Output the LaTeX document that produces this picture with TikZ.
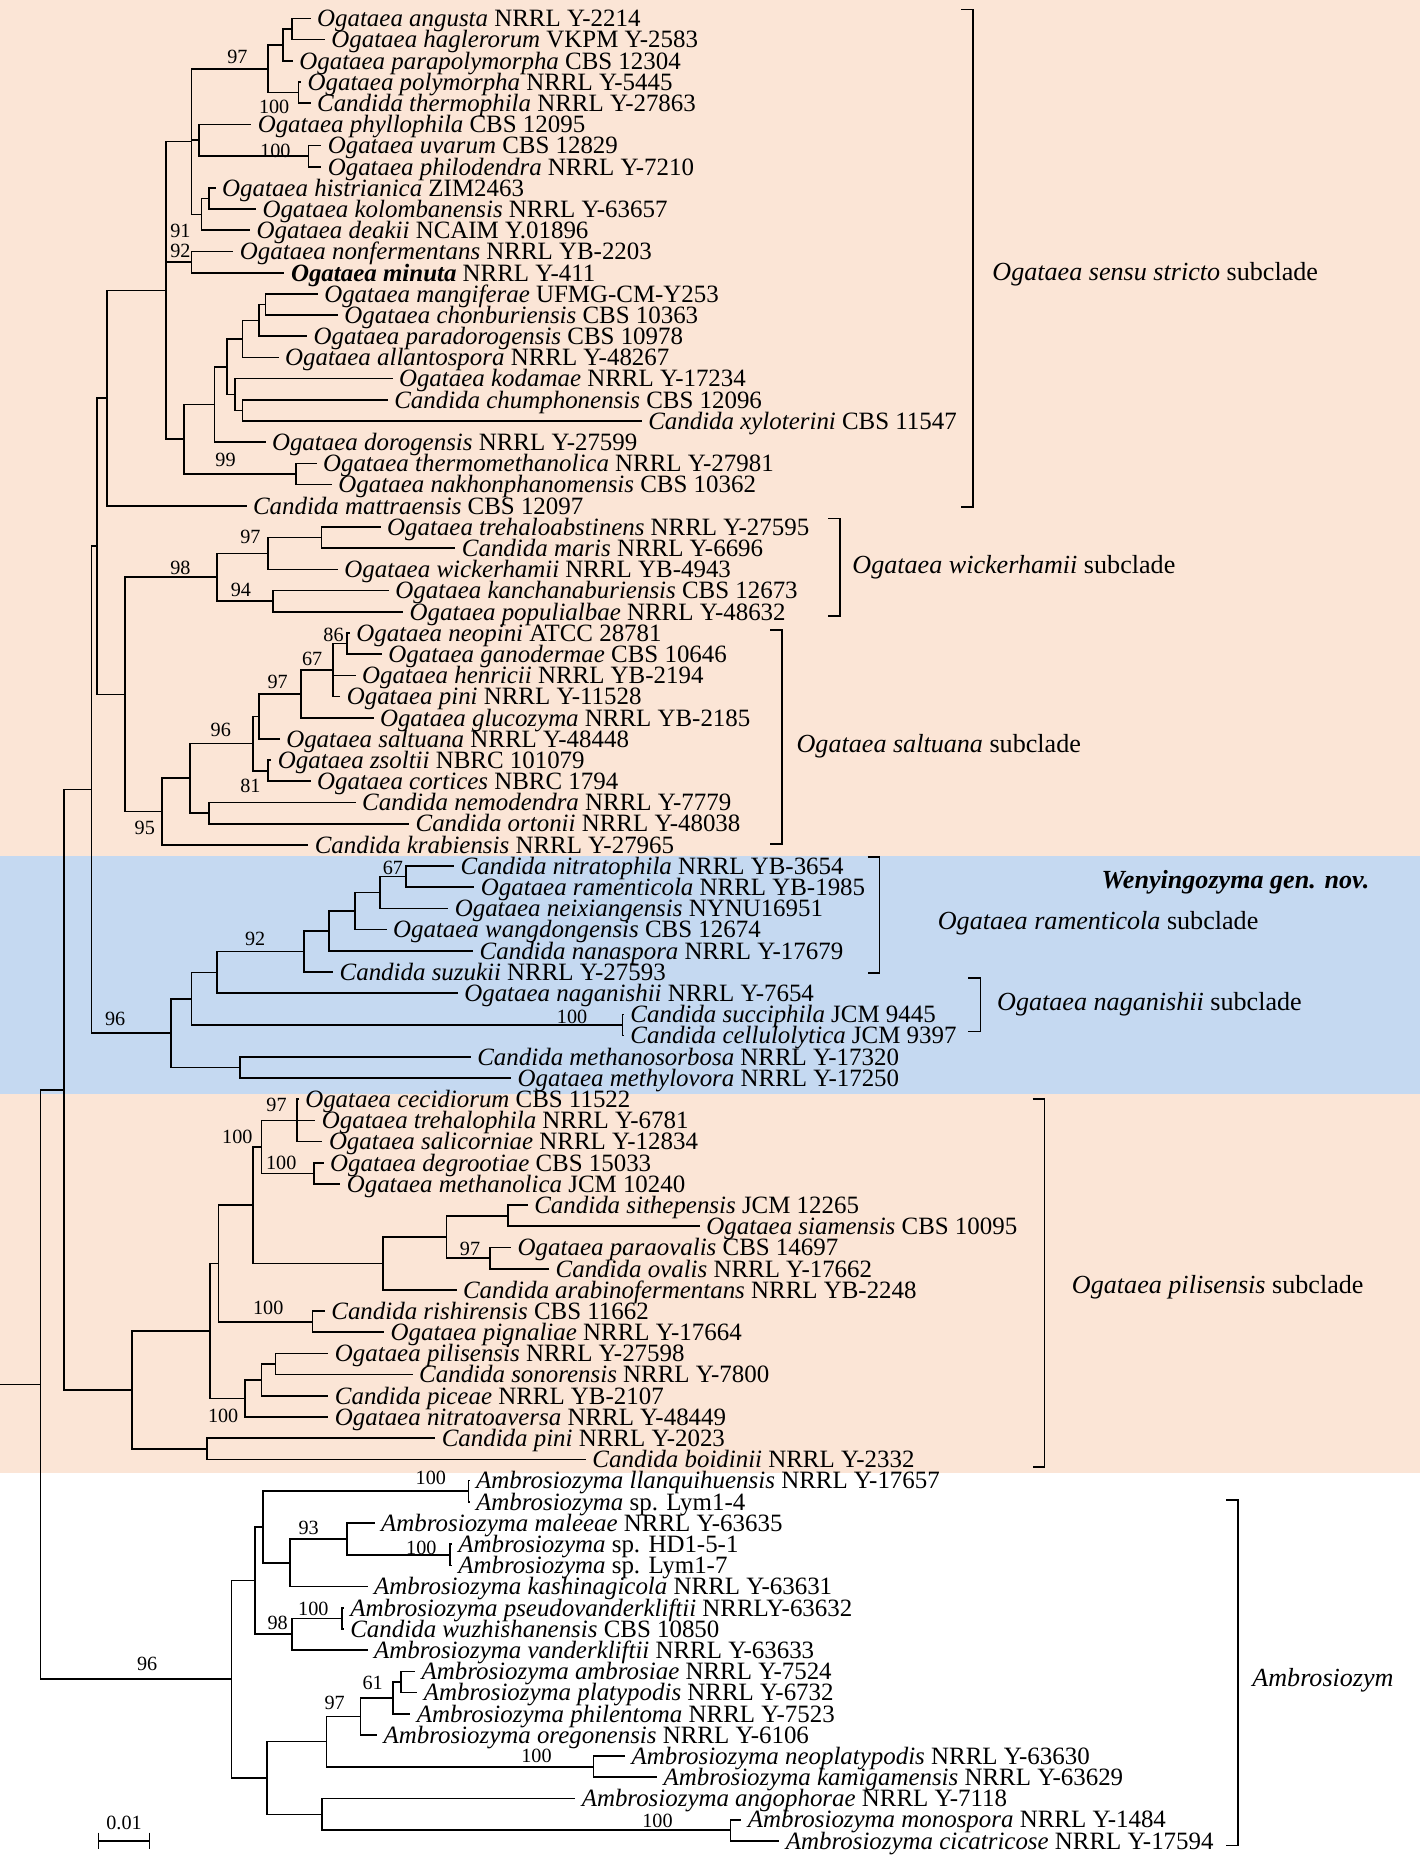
\documentclass[tikz,border=0pt]{standalone}
\usepackage{fontspec}
\setmainfont{Liberation Serif}
\usetikzlibrary{calc}
\definecolor{peach}{RGB}{251,229,214}
\definecolor{bluebg}{RGB}{197,217,241}
\tikzset{
  br/.style={line width=1.4pt, line cap=rect},
  brk/.style={line width=1.4pt},
  leaf/.style={anchor=west, inner sep=0pt, xshift=6pt, font=\fontsize{21}{21}\selectfont, text height=14pt, text depth=0pt},
  bs/.style={inner sep=0pt, font=\fontsize{17}{17}\selectfont, text height=11.5pt, text depth=0pt},
  lab/.style={anchor=west, inner sep=0pt, font=\fontsize{22}{22}\selectfont, text height=14.5pt, text depth=0pt},
}
% leaf: name, index, tip x, text
\newcommand\lf[4]{%
  \coordinate (#1) at (#3,{15.5+(#2-1)*17.855});
  \node[leaf] (#1t) at (#1) {#4};}
% clade: name, x, child1, child2
\newcommand\cl[4]{%
  \coordinate (#1-m) at ($(#3)!.5!(#4)$);
  \coordinate (#1) at (#2,0 |- #1-m);
  \draw[br] (#3) -| (#1) |- (#4);}
% polytomy: name, x, child1, child2, child3
\newcommand\clt[5]{%
  \coordinate (#1-m) at ($(#3)!.5!(#5)$);
  \coordinate (#1) at (#2,0 |- #1-m);
  \draw[br] (#3) -| (#1) |- (#5);
  \draw[br] (#1 |- #4) -- (#4);}
\begin{document}
\begin{tikzpicture}[x=1pt,y=-1pt]
\useasboundingbox (0,0) rectangle (1196,1568);
\fill[white] (0,0) rectangle (1196,1568);
\fill[peach] (0,0) rectangle (1196,721);
\fill[bluebg] (0,721) rectangle (1196,922);
\fill[peach] (0,922) rectangle (1196,1241);

% ---------- leaves ----------
\lf{L1}{1}{261}{\textit{Ogataea angusta} NRRL Y-2214}
\lf{L2}{2}{273}{\textit{Ogataea haglerorum} VKPM Y-2583}
\lf{L3}{3}{246}{\textit{Ogataea parapolymorpha} CBS 12304}
\lf{L4}{4}{253}{\textit{Ogataea polymorpha} NRRL Y-5445}
\lf{L5}{5}{261}{\textit{Candida thermophila} NRRL Y-27863}
\lf{L6}{6}{211}{\textit{Ogataea phyllophila} CBS 12095}
\lf{L7}{7}{270}{\textit{Ogataea uvarum} CBS 12829}
\lf{L8}{8}{270}{\textit{Ogataea philodendra} NRRL Y-7210}
\lf{L9}{9}{181}{\textit{Ogataea histrianica} ZIM2463}
\lf{L10}{10}{215}{\textit{Ogataea kolombanensis} NRRL Y-63657}
\lf{L11}{11}{210}{\textit{Ogataea deakii} NCAIM Y.01896}
\lf{L12}{12}{196}{\textit{Ogataea nonfermentans} NRRL YB-2203}
\lf{L13}{13}{239}{\textbf{\textit{Ogataea minuta}} NRRL Y-411}
\lf{L14}{14}{267}{\textit{Ogataea mangiferae} UFMG-CM-Y253}
\lf{L15}{15}{284}{\textit{Ogataea chonburiensis} CBS 10363}
\lf{L16}{16}{258}{\textit{Ogataea paradorogensis} CBS 10978}
\lf{L17}{17}{234}{\textit{Ogataea allantospora} NRRL Y-48267}
\lf{L18}{18}{330}{\textit{Ogataea kodamae} NRRL Y-17234}
\lf{L19}{19}{326}{\textit{Candida chumphonensis} CBS 12096}
\lf{L20}{20}{540}{\textit{Candida xyloterini} CBS 11547}
\lf{L21}{21}{223}{\textit{Ogataea dorogensis} NRRL Y-27599}
\lf{L22}{22}{266}{\textit{Ogataea thermomethanolica} NRRL Y-27981}
\lf{L23}{23}{279}{\textit{Ogataea nakhonphanomensis} CBS 10362}
\lf{L24}{24}{207}{\textit{Candida mattraensis} CBS 12097}
\lf{L25}{25}{320}{\textit{Ogataea trehaloabstinens} NRRL Y-27595}
\lf{L26}{26}{383}{\textit{Candida maris} NRRL Y-6696}
\lf{L27}{27}{284}{\textit{Ogataea wickerhamii} NRRL YB-4943}
\lf{L28}{28}{327}{\textit{Ogataea kanchanaburiensis} CBS 12673}
\lf{L29}{29}{339}{\textit{Ogataea populialbae} NRRL Y-48632}
\lf{L30}{30}{294}{\textit{Ogataea neopini} ATCC 28781}
\lf{L31}{31}{321}{\textit{Ogataea ganodermae} CBS 10646}
\lf{L32}{32}{299}{\textit{Ogataea henricii} NRRL YB-2194}
\lf{L33}{33}{286}{\textit{Ogataea pini} NRRL Y-11528}
\lf{L34}{34}{314}{\textit{Ogataea glucozyma} NRRL YB-2185}
\lf{L35}{35}{235}{\textit{Ogataea saltuana} NRRL Y-48448}
\lf{L36}{36}{228}{\textit{Ogataea zsoltii} NBRC 101079}
\lf{L37}{37}{261}{\textit{Ogataea cortices} NBRC 1794}
\lf{L38}{38}{299}{\textit{Candida nemodendra} NRRL Y-7779}
\lf{L39}{39}{344}{\textit{Candida ortonii} NRRL Y-48038}
\lf{L40}{40}{259}{\textit{Candida krabiensis} NRRL Y-27965}
\lf{L41}{41}{382}{\textit{Candida nitratophila} NRRL YB-3654}
\lf{L42}{42}{399}{\textit{Ogataea ramenticola} NRRL YB-1985}
\lf{L43}{43}{377}{\textit{Ogataea neixiangensis} NYNU16951}
\lf{L44}{44}{325}{\textit{Ogataea wangdongensis} CBS 12674}
\lf{L45}{45}{398}{\textit{Candida nanaspora} NRRL Y-17679}
\lf{L46}{46}{280}{\textit{Candida suzukii} NRRL Y-27593}
\lf{L47}{47}{385}{\textit{Ogataea naganishii} NRRL Y-7654}
\lf{L48}{48}{525}{\textit{Candida succiphila} JCM 9445}
\lf{L49}{49}{525}{\textit{Candida cellulolytica} JCM 9397}
\lf{L50}{50}{396}{\textit{Candida methanosorbosa} NRRL Y-17320}
\lf{L51}{51}{430}{\textit{Ogataea methylovora} NRRL Y-17250}
\lf{L52}{52}{251}{\textit{Ogataea cecidiorum} CBS 11522}
\lf{L53}{53}{265}{\textit{Ogataea trehalophila} NRRL Y-6781}
\lf{L54}{54}{271}{\textit{Ogataea salicorniae} NRRL Y-12834}
\lf{L55}{55}{272}{\textit{Ogataea degrootiae} CBS 15033}
\lf{L56}{56}{286}{\textit{Ogataea methanolica} JCM 10240}
\lf{L57}{57}{444}{\textit{Candida sithepensis} JCM 12265}
\lf{L58}{58}{589}{\textit{Ogataea siamensis} CBS 10095}
\lf{L59}{59}{430}{\textit{Ogataea paraovalis} CBS 14697}
\lf{L60}{60}{462}{\textit{Candida ovalis} NRRL Y-17662}
\lf{L61}{61}{384}{\textit{Candida arabinofermentans} NRRL YB-2248}
\lf{L62}{62}{273}{\textit{Candida rishirensis} CBS 11662}
\lf{L63}{63}{323}{\textit{Ogataea pignaliae} NRRL Y-17664}
\lf{L64}{64}{276}{\textit{Ogataea pilisensis} NRRL Y-27598}
\lf{L65}{65}{347}{\textit{Candida sonorensis} NRRL Y-7800}
\lf{L66}{66}{276}{\textit{Candida piceae} NRRL YB-2107}
\lf{L67}{67}{276}{\textit{Ogataea nitratoaversa} NRRL Y-48449}
\lf{L68}{68}{366}{\textit{Candida pini} NRRL Y-2023}
\lf{L69}{69}{493}{\textit{Candida boidinii} NRRL Y-2332}
\lf{L70}{70}{395}{\textit{Ambrosiozyma llanquihuensis} NRRL Y-17657}
\lf{L71}{71}{395}{\textit{Ambrosiozyma} sp. Lym1-4}
\lf{L72}{72}{315}{\textit{Ambrosiozyma maleeae} NRRL Y-63635}
\lf{L73}{73}{380}{\textit{Ambrosiozyma} sp. HD1-5-1}
\lf{L74}{74}{380}{\textit{Ambrosiozyma} sp. Lym1-7}
\lf{L75}{75}{309}{\textit{Ambrosiozyma kashinagicola} NRRL Y-63631}
\lf{L76}{76}{289}{\textit{Ambrosiozyma pseudovanderkliftii} NRRLY-63632}
\lf{L77}{77}{289}{\textit{Candida wuzhishanensis} CBS 10850}
\lf{L78}{78}{309}{\textit{Ambrosiozyma vanderkliftii} NRRL Y-63633}
\lf{L79}{79}{349}{\textit{Ambrosiozyma ambrosiae} NRRL Y-7524}
\lf{L80}{80}{351}{\textit{Ambrosiozyma platypodis} NRRL Y-6732}
\lf{L81}{81}{345}{\textit{Ambrosiozyma philentoma} NRRL Y-7523}
\lf{L82}{82}{317}{\textit{Ambrosiozyma oregonensis} NRRL Y-6106}
\lf{L83}{83}{526}{\textit{Ambrosiozyma neoplatypodis} NRRL Y-63630}
\lf{L84}{84}{553}{\textit{Ambrosiozyma kamigamensis} NRRL Y-63629}
\lf{L85}{85}{484}{\textit{Ambrosiozyma angophorae} NRRL Y-7118}
\lf{L86}{86}{624}{\textit{Ambrosiozyma monospora} NRRL Y-1484}
\lf{L87}{87}{656}{\textit{Ambrosiozyma cicatricose} NRRL Y-17594}

% ---------- Ogataea sensu stricto ----------
\cl{nAH}{246}{L1}{L2}
\cl{nAHP}{238.7}{nAH}{L3}
\cl{nPT}{251.6}{L4}{L5}
\cl{n97}{225.8}{nAHP}{nPT}
\cl{nUP}{260}{L7}{L8}
\cl{nPhy}{167.7}{L6}{nUP}
\cl{nHK}{176.3}{L9}{L10}
\cl{nHKD}{169.9}{nHK}{L11}
\clt{nTop}{161.3}{n97}{nPhy}{nHKD}
\cl{nNM}{161.3}{L12}{L13}
\cl{nMC}{223.6}{L14}{L15}
\cl{nMCP}{218.4}{nMC}{L16}
\cl{nMCPA}{204.3}{nMCP}{L17}
\cl{nCX}{204.3}{L19}{L20}
\cl{nKCX}{197.8}{L18}{nCX}
\cl{nMK}{191.4}{nMCPA}{nKCX}
\cl{nMKD}{180.6}{nMK}{L21}
\cl{nTN}{249.4}{L22}{L23}
\cl{n99}{154.8}{nMKD}{nTN}
\clt{nCore}{139.7}{nTop}{nNM}{n99}
\cl{nSS}{90.3}{nCore}{L24}
% ---------- wickerhamii ----------
\cl{nTM}{270.9}{L25}{L26}
\cl{nTMW}{225.8}{nTM}{L27}
\cl{nKP}{230}{L28}{L29}
\cl{nWick}{182.8}{nTMW}{nKP}
% ---------- saltuana ----------
\cl{nNG}{292.4}{L30}{L31}
\clt{nNGHP}{280.4}{nNG}{L32}{L33}
\cl{nG}{253.7}{nNGHP}{L34}
\cl{nS}{218.4}{nG}{L35}
\cl{nZC}{225.8}{L36}{L37}
\cl{nSZ}{212.9}{nS}{nZC}
\cl{nNO}{176.3}{L38}{L39}
\cl{n96s}{160}{nSZ}{nNO}
\cl{nSalt}{136.7}{n96s}{L40}
\cl{nWS}{105.4}{nWick}{nSalt}
\cl{n82}{82}{nSS}{nWS}
% ---------- Wenyingozyma ----------
\cl{nNR}{341.9}{L41}{L42}
\cl{nNRN}{320.4}{nNR}{L43}
\cl{nW4}{298.9}{nNRN}{L44}
\cl{nW5}{277.4}{nW4}{L45}
\cl{nW6}{255.9}{nW5}{L46}
\cl{nW7}{182.8}{nW6}{L47}
\cl{nSC}{524.6}{L48}{L49}
\cl{nW8}{161.3}{nW7}{nSC}
\cl{nMM}{202.1}{L50}{L51}
\cl{nWen}{144}{nW8}{nMM}
\cl{nA}{77}{n82}{nWen}
% ---------- pilisensis ----------
\clt{nCTS}{250.3}{L52}{L53}{L54}
\cl{nDM}{264.5}{L55}{L56}
\cl{nCD}{220.2}{nCTS}{nDM}
\cl{nSSi}{427.9}{L57}{L58}
\cl{nPO}{412.8}{L59}{L60}
\cl{nSP}{376.3}{nSSi}{nPO}
\cl{nSPA}{322.5}{nSP}{L61}
\cl{nCDS}{212.9}{nCD}{nSPA}
\cl{nRP}{263.2}{L62}{L63}
\cl{nX}{184}{nCDS}{nRP}
\cl{nPS}{232.2}{L64}{L65}
\cl{nPSP}{220.2}{nPS}{L66}
\cl{nPSPN}{206.4}{nPSP}{L67}
\cl{nY}{177.2}{nX}{nPSPN}
\cl{nPB}{174.2}{L68}{L69}
\cl{nPil}{111}{nY}{nPB}
\cl{n54}{54}{nA}{nPil}
% ---------- Ambrosiozyma ----------
\cl{nLL}{394.7}{L70}{L71}
\cl{nHL}{379.3}{L73}{L74}
\cl{nMHL}{292.4}{L72}{nHL}
\cl{nMHLK}{244.2}{nMHL}{L75}
\cl{nAm1}{221.5}{nLL}{nMHLK}
\cl{nPW}{288.1}{L76}{L77}
\cl{nPWV}{246}{nPW}{L78}
\cl{nAm2}{215}{nAm1}{nPWV}
\cl{nAP}{338}{L79}{L80}
\cl{nAPP}{331}{nAP}{L81}
\cl{nAPPO}{303.7}{nAPP}{L82}
\cl{nNK}{500}{L83}{L84}
\cl{nAm3}{275.2}{nAPPO}{nNK}
\cl{nMoC}{615.5}{L86}{L87}
\cl{nAMC}{271.4}{L85}{nMoC}
\cl{nAm4}{224.7}{nAm3}{nAMC}
\cl{nAmb}{195}{nAm2}{nAm4}
\cl{root}{34}{n54}{nAmb}
\coordinate (rootstem) at (0,0 |- root);
\draw[br] (rootstem) -- (root);

% ---------- bootstrap values ----------
\foreach \x/\y/\t in {200/48/97, 231/90/100, 232/127/100, 152/194/91, 152/211/92,
  190/387/99, 211/452/97, 152/478/98, 203/497/94, 281/535/86, 263/555/67,
  234/574/97, 186/615/96, 211/662/81, 122/697/95, 331/731/67, 215/791/92,
  482/857/100, 97/858/96, 233/931/97, 200/958/100, 237/980/100, 396/1052/97,
  226/1102/100, 188/1193/100, 363/1245/100, 260/1287/93, 355/1304/100,
  264/1355/100, 234/1367/98, 124/1402/96, 314/1418/61, 282/1435/97,
  452/1479/100, 554/1534/100}
  \node[bs] (bs-\x-\y) at (\x,\y) {\t};

% ---------- subclade brackets ----------
\draw[brk] (810,8) -- (820,8) -- (820,427) -- (810,427);
\node[lab] (lab1) at (836,229) {\textit{Ogataea sensu stricto} subclade};
\draw[brk] (698,437) -- (708,437) -- (708,519) -- (698,519);
\node[lab] (lab2) at (718,476) {\textit{Ogataea wickerhamii} subclade};
\draw[brk] (649,531) -- (659,531) -- (659,711) -- (649,711);
\node[lab] (lab3) at (671,627) {\textit{Ogataea saltuana} subclade};
\node[lab] (lab4) at (928,741) {\textbf{\textit{Wenyingozyma gen. nov.}}};
\draw[brk] (731,722) -- (741,722) -- (741,820) -- (731,820);
\node[lab] (lab5) at (790,776) {\textit{Ogataea ramenticola} subclade};
\draw[brk] (816,824) -- (826,824) -- (826,869) -- (816,869);
\node[lab] (lab6) at (840,844) {\textit{Ogataea naganishii} subclade};
\draw[brk] (870,926) -- (880,926) -- (880,1236) -- (870,1236);
\node[lab] (lab7) at (903,1083) {\textit{Ogataea pilisensis} subclade};
\draw[brk] (1033,1264) -- (1043,1264) -- (1043,1555) -- (1033,1555);
\node[lab] (lab8) at (1055,1414) {\textit{Ambrosiozym}};

% ---------- scale bar ----------
\coordinate (sb1) at (83,1551);
\coordinate (sb2) at (126,1551);
\draw[brk] (sb1) -- (sb2);
\draw[brk] ($(sb1)+(0,-7)$) -- ($(sb1)+(0,7)$);
\draw[brk] ($(sb2)+(0,-7)$) -- ($(sb2)+(0,7)$);
\node[bs] (sbl) at (104.5,1536) {0.01};
\end{tikzpicture}
\end{document}
